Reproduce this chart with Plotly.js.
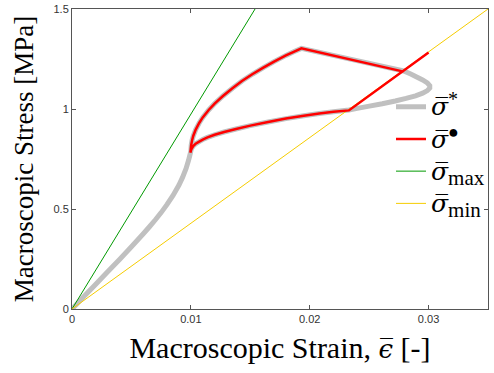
<!DOCTYPE html>
<html>
<head>
<meta charset="utf-8">
<script src="https://cdn.plot.ly/plotly-3.0.1.min.js"></script>
<style>html,body{margin:0;padding:0;background:#fff;}#chart{width:494px;height:373px;}</style>
</head>
<body>
<div id="chart"></div>
<script>
// sigma* (gray) curve: loading branch, upper branch, peak, nose, lower branch back to cusp
var starStrain = [0, 0.0010, 0.0020, 0.0030, 0.0040, 0.0050, 0.0060, 0.0065, 0.0070, 0.0075, 0.0080, 0.0085, 0.0090, 0.0093, 0.0096, 0.0098, 0.0099, 0.0100,
  0.01003, 0.0101, 0.0102, 0.0104, 0.0107, 0.0110, 0.0115, 0.0120, 0.0127, 0.0135, 0.0143, 0.0152, 0.0161, 0.0170, 0.0180, 0.0187, 0.0193,
  0.0236, 0.0279, 0.0285, 0.0290, 0.0295, 0.0299, 0.0301, 0.0301, 0.0299, 0.0295, 0.0289, 0.0281, 0.0272, 0.0261, 0.0249, 0.0240, 0.0233,
  0.0220, 0.0208, 0.0195, 0.0180, 0.0165, 0.0150, 0.0138, 0.0128, 0.0120, 0.0114, 0.0110, 0.0107, 0.0104, 0.0102, 0.01005, 0.0100];
var starStress = [0, 0.062, 0.124, 0.186, 0.248, 0.311, 0.376, 0.410, 0.445, 0.482, 0.523, 0.568, 0.620, 0.658, 0.703, 0.742, 0.765, 0.790,
  0.820, 0.843, 0.865, 0.896, 0.930, 0.958, 0.995, 1.027, 1.065, 1.104, 1.140, 1.175, 1.207, 1.237, 1.268, 1.287, 1.303,
  1.247, 1.190, 1.175, 1.160, 1.145, 1.130, 1.117, 1.105, 1.092, 1.079, 1.066, 1.053, 1.040, 1.026, 1.013, 1.003, 0.995,
  0.986, 0.977, 0.966, 0.952, 0.935, 0.917, 0.900, 0.885, 0.871, 0.858, 0.847, 0.837, 0.826, 0.815, 0.802, 0.790];
// sigma bullet (red) path: secant unloading, lower branch, cusp, upper branch, peak, drop
var dotStrain = [0.0300, 0.0233, 0.0220, 0.0208, 0.0195, 0.0180, 0.0165, 0.0150, 0.0138, 0.0128, 0.0120, 0.0114, 0.0110, 0.0107, 0.0104, 0.0102, 0.01005, 0.00996,
  0.01003, 0.0101, 0.0102, 0.0104, 0.0107, 0.0110, 0.0115, 0.0120, 0.0127, 0.0135, 0.0143, 0.0152, 0.0161, 0.0170, 0.0180, 0.0187, 0.0193, 0.0279];
var dotStress = [1.282, 0.993, 0.986, 0.977, 0.966, 0.952, 0.935, 0.917, 0.900, 0.885, 0.871, 0.858, 0.847, 0.837, 0.826, 0.815, 0.800, 0.782,
  0.820, 0.843, 0.865, 0.896, 0.930, 0.958, 0.995, 1.027, 1.065, 1.104, 1.140, 1.175, 1.207, 1.237, 1.268, 1.287, 1.303, 1.187];
// bounds
var maxStrain = [0, 0.0154];
var maxStress = [0, 1.5];
var minStrain = [0, 0.035];
var minStress = [0, 1.5];
var xTicks = [0, 0.01, 0.02, 0.03];
var xTickText = ['0', '0.01', '0.02', '0.03'];
var yTicks = [0, 0.5, 1, 1.5];
var yTickText = ['0', '0.5', '1', '1.5'];

function bar(ch, size) {
  return '<span style="font-family:DejaVu Serif;font-style:italic;font-size:' + size + 'px">' + ch + '\u0305</span>';
}
var traces = [
  {x: starStrain, y: starStress, mode: 'lines', line: {color: '#c0c0c0', width: 5, simplify: false}, name: bar('σ', 25) + '<sup><span style="font-size:20px">*</span></sup>', legendrank: 1},
  {x: maxStrain, y: maxStress, mode: 'lines', line: {color: '#009900', width: 1}, name: bar('σ', 25) + '<sub><span style="font-size:21px">max</span></sub>', legendrank: 3},
  {x: minStrain, y: minStress, mode: 'lines', line: {color: '#f5cc00', width: 1}, name: bar('σ', 25) + '<sub><span style="font-size:21px">min</span></sub>', legendrank: 4},
  {x: dotStrain, y: dotStress, mode: 'lines', line: {color: '#ff0000', width: 2.5, simplify: false}, name: bar('σ', 25) + '<sup><span style="font-size:18px">●</span></sup>', legendrank: 2}
];
var axisCommon = {
  showgrid: false, zeroline: false, showline: true, mirror: 'ticks',
  linecolor: '#555', linewidth: 1, ticks: 'inside', ticklen: 4, tickcolor: '#555',
  tickfont: {family: 'Liberation Sans, Arial, sans-serif', size: 11, color: '#333'}
};
var layout = {
  width: 494, height: 373,
  margin: {l: 72, r: 5, t: 9, b: 64},
  paper_bgcolor: '#fff', plot_bgcolor: '#fff',
  showlegend: true,
  legend: {x: 0.765, y: 0.745, xanchor: 'left', yanchor: 'top', bgcolor: 'rgba(0,0,0,0)',
    font: {family: 'Liberation Serif, DejaVu Serif, serif', size: 22.5, color: '#000'}, itemwidth: 30},
  xaxis: Object.assign({}, axisCommon, {range: [0, 0.035], tickvals: xTicks, ticktext: xTickText,
    title: {text: 'Macroscopic Strain, ' + bar('ϵ', 26) + ' [-]', font: {family: 'Liberation Serif, serif', size: 30, color: '#000'}, standoff: 12}}),
  yaxis: Object.assign({}, axisCommon, {range: [0, 1.5], tickvals: yTicks, ticktext: yTickText,
    title: {text: 'Macroscopic Stress [MPa]', font: {family: 'Liberation Serif, serif', size: 27, color: '#000'}, standoff: 12}})
};
Plotly.newPlot('chart', traces, layout, {displayModeBar: false, staticPlot: true});
</script>
</body>
</html>
